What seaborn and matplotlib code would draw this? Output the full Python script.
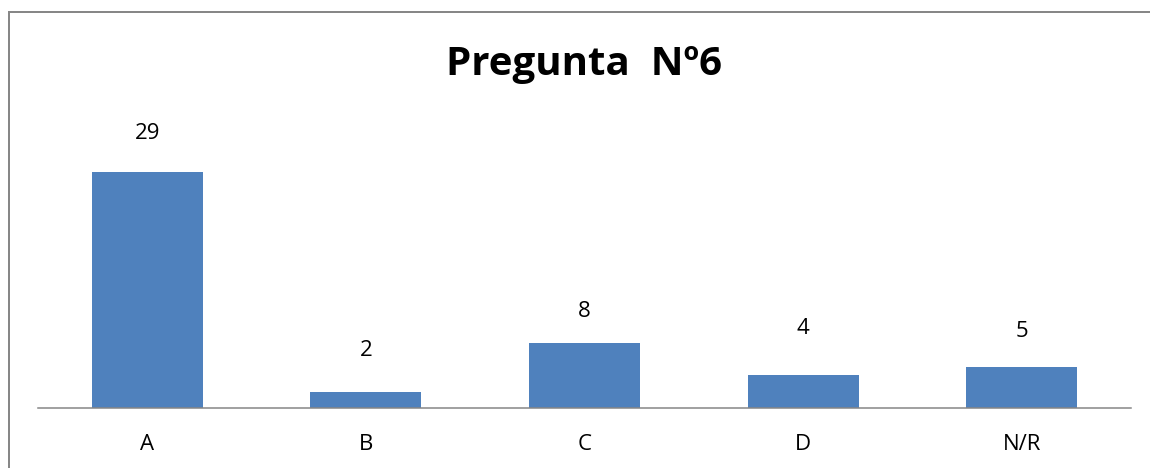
import matplotlib
matplotlib.use('Agg')
import matplotlib.pyplot as plt
import matplotlib.patches as patches
import pandas as pd
import seaborn as sns

categories = ['A', 'B', 'C', 'D', 'N/R']
values = [29, 2, 8, 4, 5]
title = 'Pregunta  Nº6'

# label offsets above each bar (points), Excel places them a bit unevenly
label_offsets = [23.4, 25.4, 18.7, 29.5, 22.1]

BAR_COLOR = '#4F81BD'
W, H = 1150, 468

df = pd.DataFrame({'Respuesta': categories, 'Cantidad': values})

sns.set_style("white")
plt.rcParams['font.family'] = ['Open Sans', 'DejaVu Sans']

fig = plt.figure(figsize=(W / 100, H / 100), dpi=100)
ax = fig.add_axes([38 / W, (H - 408) / H, (1131 - 38) / W, 40 * 8.138 / H])

sns.barplot(data=df, x='Respuesta', y='Cantidad', order=categories,
            color=BAR_COLOR, saturation=1, width=0.507, linewidth=0, ax=ax)

ax.set_ylim(0, 40)
ax.set_xlim(-0.5, len(categories) - 0.5)
ax.set_xlabel('')
ax.set_ylabel('')
ax.set_yticks([])

for side in ['top', 'left', 'right']:
    ax.spines[side].set_visible(False)
ax.spines['bottom'].set_color('#868686')
ax.spines['bottom'].set_linewidth(1.1)

ax.tick_params(axis='x', length=0, pad=19, labelsize=16, labelcolor='black')

for i, (v, off) in enumerate(zip(values, label_offsets)):
    ax.annotate(str(v), xy=(i, v), xytext=(0, off), textcoords='offset points',
                ha='center', va='baseline', fontsize=16, color='black')

fig.text(ax.get_position().x0 + ax.get_position().width / 2, 1 - 75 / H, title,
         ha='center', va='baseline', fontsize=29, fontweight='bold', color='black')

# chart frame, cut off at right and bottom like the original
frame = patches.Rectangle((8.5 / W, -0.2), 1.2, 1.2 - 11.5 / H,
                          transform=fig.transFigure, fill=False,
                          edgecolor='#878787', linewidth=1.44)
fig.patches.append(frame)

plt.savefig('out.png', dpi=100)
plt.close()
